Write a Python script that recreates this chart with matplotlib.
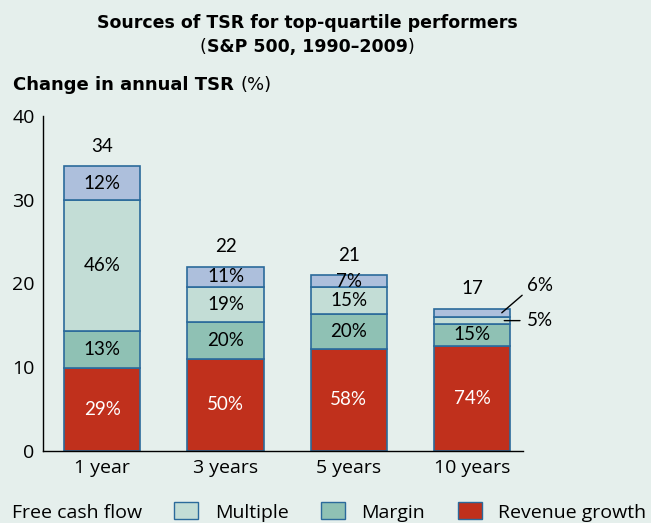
import numpy as np
import matplotlib.pyplot as plt
from matplotlib.patches import Patch

plt.rcParams['font.family'] = ['Lato', 'DejaVu Sans']

periods = ['1 year', '3 years', '5 years', '10 years']
totals = np.array([34, 22, 21, 17])
# share of total TSR (%) per source
revenue = np.array([29, 50, 58, 74])
margin = np.array([13, 20, 20, 15])
multiple = np.array([46, 19, 15, 5])
fcf = np.array([12, 11, 7, 6])

bg = '#e5efec'
edge = '#2b6a9b'
colors = {'rev': '#c0301c', 'mar': '#8fc1b4', 'mul': '#c3ddd6', 'fcf': '#adbfdc'}
ui = ['Open Sans', 'DejaVu Sans']
hd = ['DejaVu Sans']

fig = plt.figure(figsize=(6.51, 5.23), dpi=100, facecolor=bg)
ax = fig.add_axes([0.066, 0.1377, 0.737, 0.641], facecolor=bg)

x = np.arange(len(periods))
w = 0.62
bottom = np.zeros(len(periods))
layers = [(revenue, colors['rev']), (margin, colors['mar']),
          (multiple, colors['mul']), (fcf, colors['fcf'])]
for k, (share, col) in enumerate(layers):
    h = totals * share / 100
    ax.bar(x, h, w, bottom=bottom, color=col, edgecolor=edge, linewidth=1.2, zorder=2)
    for i in range(len(x)):
        if i == 3 and k >= 2:
            continue
        tc = 'white' if k == 0 else 'black'
        ax.text(x[i], bottom[i] + h[i] / 2, f'{share[i]}%', ha='center', va='center',
                fontsize=13.5, color=tc, zorder=3)
    bottom = bottom + h

for i in range(len(x)):
    ax.annotate(str(totals[i]), (x[i], totals[i]), xytext=(0, 8),
                textcoords='offset points', ha='center', va='bottom', fontsize=13.5)

# callouts for the thin segments of the 10-year bar
top_fcf = totals[3] - totals[3] * fcf[3] / 200
mid_mul = totals[3] * (revenue[3] + margin[3] + multiple[3] / 2) / 100
ax.annotate(f'{fcf[3]}%', (x[3] + 0.24, top_fcf), xytext=(x[3] + 0.55, top_fcf + 3.2),
            ha='center', va='center', fontsize=13.5,
            arrowprops=dict(arrowstyle='-', color='black', lw=1, shrinkA=2, shrinkB=0,
                            relpos=(0, 0.2)))
ax.annotate(f'{multiple[3]}%', (x[3] + 0.26, mid_mul), xytext=(x[3] + 0.55, mid_mul),
            ha='center', va='center', fontsize=13.5,
            arrowprops=dict(arrowstyle='-', color='black', lw=1, shrinkA=3, shrinkB=0,
                            relpos=(0, 0.5)))

ax.set_xlim(-0.48, 3.41)
ax.set_ylim(0, 40)
ax.set_yticks([0, 10, 20, 30, 40])
ax.set_xticks(x)
ax.set_xticklabels(periods)
ax.tick_params(length=0, labelsize=14, pad=6)
for lab in ax.get_xticklabels() + ax.get_yticklabels():
    lab.set_family(ui)
for s in ['top', 'right']:
    ax.spines[s].set_visible(False)
ax.spines['left'].set_linewidth(1)
ax.spines['bottom'].set_linewidth(1)

fig.text(0.4716, 0.956, 'Sources of TSR for top-quartile performers', ha='center',
         va='center', fontsize=12.5, fontweight='bold', family=hd)
mid = fig.text(0.4716, 0.910, 'S&P 500, 1990–2009', ha='center', va='center',
               fontsize=12.5, fontweight='bold', family=hd)
ax.annotate('(', xy=(0, 0.5), xycoords=mid, ha='right', va='center', fontsize=12.5, family=hd)
ax.annotate(')', xy=(1, 0.5), xycoords=mid, ha='left', va='center', fontsize=12.5, family=hd)
t = fig.text(0.02, 0.8375, 'Change in annual TSR ', ha='left', va='center',
             fontsize=13, fontweight='bold', family=hd)
ax.annotate('(%)', xy=(1, 0.5), xycoords=t, va='center', ha='left', fontsize=13, family=hd)

handles = [Patch(facecolor=colors['fcf'], edgecolor=edge),
           Patch(facecolor=colors['mul'], edgecolor=edge),
           Patch(facecolor=colors['mar'], edgecolor=edge),
           Patch(facecolor=colors['rev'], edgecolor=edge)]
labels = ['Free cash flow', 'Multiple', 'Margin', 'Revenue growth']
fig.legend(handles, labels, ncol=4, loc='center left', bbox_to_anchor=(-0.057, 0.021),
           frameon=False, prop={'family': ui, 'size': 14}, handlelength=1.25,
           handleheight=0.95, handletextpad=0.85, columnspacing=1.66, borderaxespad=0)

fig.savefig('out.png', dpi=100, facecolor=bg)
